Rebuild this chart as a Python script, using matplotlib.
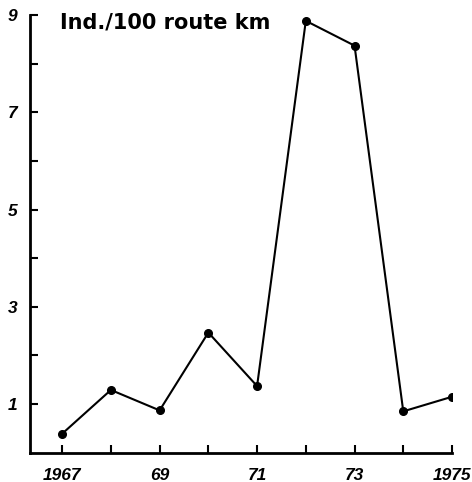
import matplotlib
matplotlib.use("Agg")
import matplotlib.pyplot as plt

years = [1967, 1968, 1969, 1970, 1971, 1972, 1973, 1974, 1975]
values = [0.39, 1.29, 0.87, 2.47, 1.37, 8.88, 8.37, 0.85, 1.15]
xtick_pos = [1967, 1969, 1971, 1973, 1975]
xtick_labels = ["1967", "69", "71", "73", "1975"]
ytick_labels = ["1", "3", "5", "7", "9"]
title = "Ind./100 route km"

fig = plt.figure(figsize=(4.72, 4.82), dpi=100)
ax = fig.add_axes([30/472, 1-452.7/482, (452-30)/472, (452.7-15)/482])

ax.plot(years, values, color="black", lw=1.5, marker="o", ms=5.5, zorder=3)

ax.set_xlim(1966.34, 1975.0)
ax.set_ylim(0, 9)
ax.set_xticks(years)
ax.set_xticklabels([xtick_labels[xtick_pos.index(y)] if y in xtick_pos else "" for y in years])
ax.set_yticks(range(1, 10))
ax.set_yticklabels([str(v) if str(v) in ytick_labels else "" for v in range(1, 10)])

for s in ["top", "right"]:
    ax.spines[s].set_visible(False)
for s in ["left", "bottom"]:
    ax.spines[s].set_linewidth(2)

ax.tick_params(direction="in", length=6, width=1.5)
ax.tick_params(axis="y", pad=9)
ax.tick_params(axis="x", pad=11)
for lab in ax.get_xticklabels() + ax.get_yticklabels():
    lab.set_fontfamily("Liberation Sans")
    lab.set_fontweight("bold")
    lab.set_fontsize(12.5)
    lab.set_fontstyle("italic")

ax.text(0.071, 0.982, title, transform=ax.transAxes, ha="left", va="center",
        fontsize=15, fontfamily="DejaVu Sans", fontweight="bold")

fig.savefig("out.png", dpi=100)
